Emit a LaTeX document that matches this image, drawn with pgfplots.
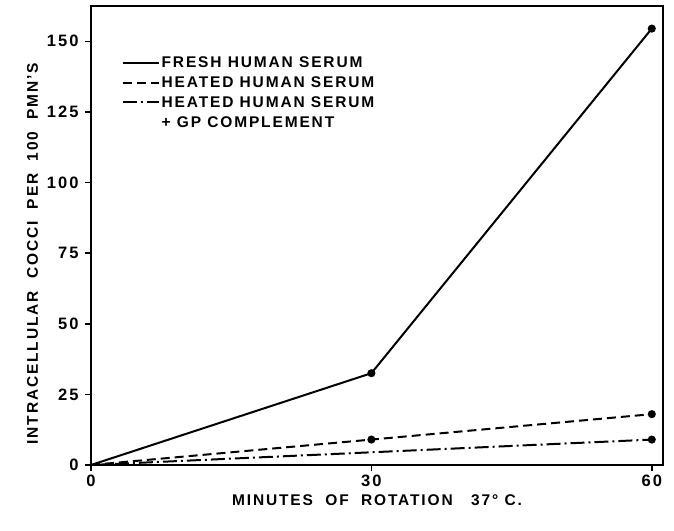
\documentclass[border=0pt]{standalone}
\usepackage{pgfplots}
\pgfplotsset{compat=1.18}
\usepackage{fontspec}
\setmainfont[LetterSpace=12]{Liberation Sans}
\pgfplotsset{raisedlegend/.style={legend image code/.code={\draw[##1, mark=none] (-2pt,10.25pt) -- (34pt,10.25pt);}}}
\begin{document}
\begin{tikzpicture}
\begin{axis}[
  scale only axis,
  width=572pt, height=459pt,
  xmin=0, xmax=61.2, ymin=0, ymax=162.5,
  xtick={0,30,60}, ytick={0,25,50,75,100,125,150},
  xtick pos=bottom, ytick pos=left,
  tick align=outside, major tick length=6pt,
  tick style={line width=1.5pt, black},
  axis line style={line width=1.8pt},
  every tick label/.append style={font=\fontsize{16.5}{19}\selectfont\bfseries},
  yticklabel style={xshift=-3pt},
  /pgf/number format/assume math mode=true,
  xlabel={MINUTES\ \ OF\ \ ROTATION\ \ \ 37° C.},
  ylabel={INTRACELLULAR\ \ COCCI\ \ PER\ \ 100\ \ PMN'S},
  label style={font=\fontsize{15.5}{19}\selectfont\bfseries},
  xlabel style={yshift=-2pt},
  ylabel style={yshift=2pt, xshift=-18pt},
  legend style={draw=none, fill=none, at={(0.048,0.9)}, anchor=north west,
    font=\fontsize{15.5}{20.5}\selectfont\bfseries, nodes={align=left, inner xsep=2pt, inner ysep=2.5pt},
    row sep=2.5pt},
  legend cell align=left,
  legend image code/.code={\draw[#1, mark=none] (-2pt,0pt) -- (34pt,0pt);},
  clip=false,
]
\addplot[black, line width=2pt, mark=*, mark size=3pt, mark indices={2,3}] coordinates {(0,0) (30,32.5) (60,154.5)};
\addlegendentry{FRESH HUMAN SERUM}
\addplot[black, line width=2pt, dash pattern=on 9pt off 5pt, mark=*, mark size=3pt, mark indices={2,3}, mark options={solid}] coordinates {(0,0) (30,9) (60,18)};
\addlegendentry{HEATED HUMAN SERUM}
\addplot[black, line width=2pt, dash pattern=on 14pt off 4pt on 2pt off 4pt, mark=*, mark size=3pt, mark indices={2}, mark options={solid}, raisedlegend] coordinates {(0,0) (60,9)};
\addlegendentry{HEATED HUMAN SERUM\\+ GP COMPLEMENT}
\end{axis}
\path ([shift={(-91pt,-66pt)}]current axis.south west) rectangle ([shift={(11pt,6pt)}]current axis.north east);
\end{tikzpicture}
\end{document}
